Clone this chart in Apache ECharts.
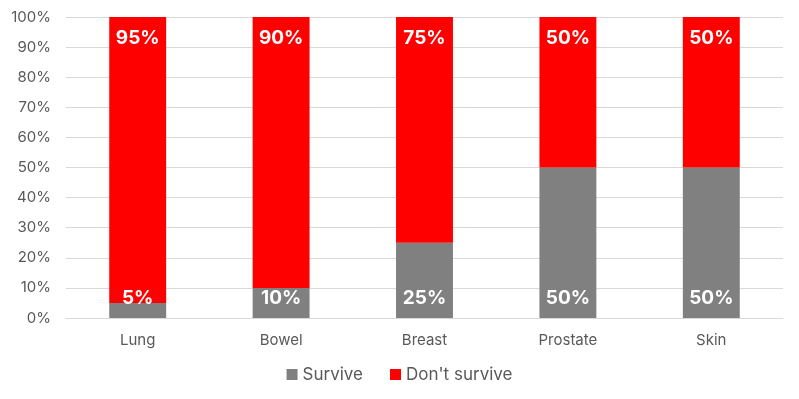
<!DOCTYPE html>
<html lang="en">

<head>
    <meta charset="UTF-8">
    <title>Survival</title>
    <script src="https://cdn.jsdelivr.net/npm/echarts@6/dist/echarts.min.js"></script>
    <style>
        * {
            padding: 0;
            margin: 0;
        }

        html,
        body {
            width: 100%;
            height: 100%;
            background: #fff;
        }

        #main {
            width: 799px;
            height: 399px;
        }
    </style>
</head>

<body>
    <div id="main"></div>
</body>

</html>
<script>
    let categories = ['Lung', 'Bowel', 'Breast', 'Prostate', 'Skin'];
    let survive = [5, 10, 25, 50, 50];
    let notSurvive = [95, 90, 75, 50, 50];
    let font = 'Inter, "Noto Sans", sans-serif';

    var myChart = echarts.init(document.getElementById('main'));
    let labelStyle = {
        show: true,
        color: '#fff',
        fontWeight: 'bold',
        fontSize: 19,
        fontFamily: font,
        formatter: '{c}%'
    };
    option = {
        animation: false,
        textStyle: { fontFamily: font },
        grid: {
            left: 66,
            right: 16,
            top: 17,
            bottom: 81
        },
        legend: {
            bottom: 11,
            left: 'center',
            itemWidth: 11,
            itemHeight: 11,
            itemGap: 27,
            icon: 'rect',
            textStyle: { color: '#595959', fontSize: 17, fontFamily: font },
            data: ['Survive', "Don't survive"]
        },
        xAxis: {
            type: 'category',
            data: categories,
            axisTick: { show: false },
            axisLine: { lineStyle: { color: '#d9d9d9' } },
            axisLabel: { color: '#595959', fontSize: 15, margin: 15 }
        },
        yAxis: {
            type: 'value',
            min: 0,
            max: 100,
            interval: 10,
            axisLabel: { color: '#595959', fontSize: 15, margin: 15, formatter: '{value}%' },
            splitLine: { lineStyle: { color: '#d9d9d9' } }
        },
        series: [
            {
                name: 'Survive',
                type: 'bar',
                stack: 'total',
                barWidth: '39.7%',
                itemStyle: { color: '#808080' },
                label: Object.assign({}, labelStyle, { position: 'insideBottom', distance: 10 }),
                data: survive
            },
            {
                name: "Don't survive",
                type: 'bar',
                stack: 'total',
                itemStyle: { color: '#ff0000' },
                label: Object.assign({}, labelStyle, { position: 'insideTop', distance: 12 }),
                data: notSurvive
            }
        ]
    };
    myChart.setOption(option);
</script>
